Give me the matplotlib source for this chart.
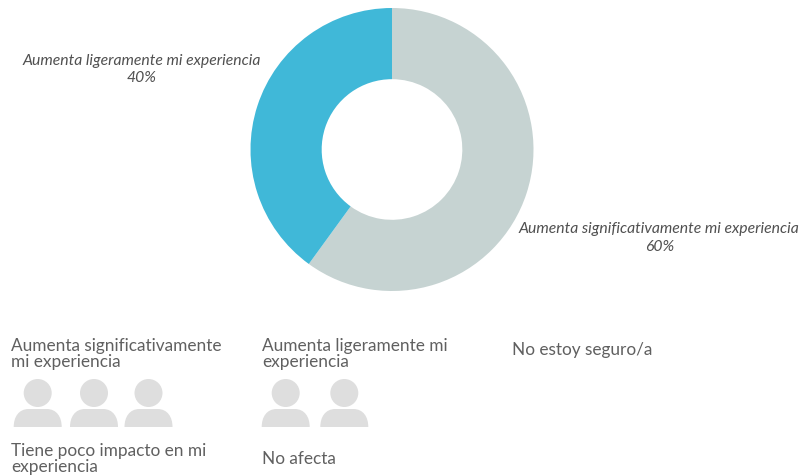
import matplotlib
matplotlib.use("Agg")
import matplotlib.pyplot as plt
from matplotlib.patches import Circle, PathPatch
from matplotlib.path import Path

plt.rcParams['font.family'] = ['Lato', 'DejaVu Sans']

W, H = 800, 476

# donut data
slices = ["Aumenta significativamente mi experiencia", "Aumenta ligeramente mi experiencia"]
shares = [60, 40]
slice_colors = ["#c6d3d2", "#40b8d8"]

# pictogram data: one figure per 20% of answers
groups = ["Aumenta significativamente\nmi experiencia", "Aumenta ligeramente mi\nexperiencia", "No estoy seguro/a",
          "Tiene poco impacto en mi\nexperiencia", "No afecta"]
icon_counts = [3, 2, 0, 0, 0]
group_x = [11, 262, 512, 11, 262]
group_y = [354, 354, 350.5, 459, 459]
icon_x = [[37.7, 94, 148.5], [285.7, 344.3], [], [], []]

fig = plt.figure(figsize=(W / 100, H / 100), dpi=100, facecolor="white")

# overlay in pixel coordinates for text and icons
bg = fig.add_axes([0, 0, 1, 1])
bg.set_xlim(0, W)
bg.set_ylim(H, 0)
bg.axis("off")

cx, cy, r = 392, 149.5, 141.5
ax = fig.add_axes([(cx - r) / W, 1 - (cy + r) / H, 2 * r / W, 2 * r / H])
ax.pie(shares, colors=slice_colors, startangle=90, counterclock=False, radius=1,
       wedgeprops={"width": 0.503, "linewidth": 0})
ax.set_xlim(-1, 1)
ax.set_ylim(-1, 1)

# slice labels
label_color = "#505050"
label_size = 11.3
bg.text(141.5, 60.5, slices[1], style="italic", fontsize=label_size, color=label_color, ha="center", va="center")
bg.text(141.5, 78.5, f"{shares[1]}%", style="italic", fontsize=label_size, color=label_color, ha="center", va="center")
bg.text(658.5, 228.5, slices[0], style="italic", fontsize=label_size, color=label_color, ha="center", va="center")
bg.text(660, 247, f"{shares[0]}%", style="italic", fontsize=label_size, color=label_color, ha="center", va="center")


def person(x):
    # head plus shoulders with rounded top corners
    icon = "#dedede"
    bg.add_patch(Circle((x, 393), 14, fc=icon, ec="none"))
    x0, x1, top, bot = x - 24, x + 24, 409, 427
    verts = [(x0, bot), (x0, top + 8), (x0 + 5, top), (x0 + 15, top), (x1 - 15, top),
             (x1 - 5, top), (x1, top + 8), (x1, bot), (x0, bot)]
    codes = [Path.MOVETO, Path.CURVE4, Path.CURVE4, Path.CURVE4, Path.LINETO,
             Path.CURVE4, Path.CURVE4, Path.CURVE4, Path.CLOSEPOLY]
    bg.add_patch(PathPatch(Path(verts, codes), fc=icon, ec="none"))


for name, count, x, y, xs in zip(groups, icon_counts, group_x, group_y, icon_x):
    bg.text(x, y, name, fontsize=12.45, color="#606060", ha="left", va="center", linespacing=1.0)
    for px in xs[:count]:
        person(px)

fig.savefig("out.png", dpi=100)
